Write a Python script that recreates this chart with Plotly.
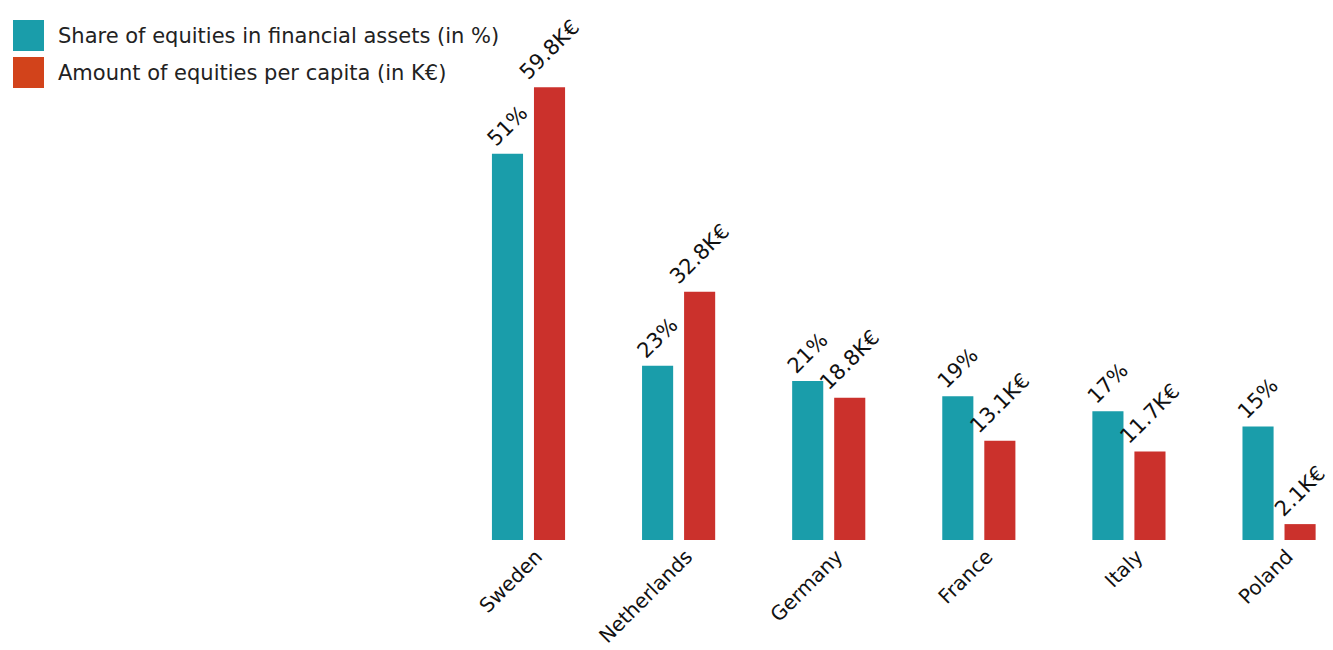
import plotly.graph_objects as go

# Data
countries = ["Sweden", "Netherlands", "Germany", "France", "Italy", "Poland"]
share_pct = [51, 23, 21, 19, 17, 15]
amount_keur = [59.8, 32.8, 18.8, 13.1, 11.7, 2.1]
series_names = [
    "Share of equities in financial assets (in %)",
    "Amount of equities per capita (in K€)",
]

# Styling
TEAL = "#1A9DAA"
RED = "#CB312C"
LEGEND_RED = "#D2431B"
FONT = "DejaVu Sans"
TEXT_COLOR = "#111111"
LABEL_SIZE = 21
TICK_SIZE = 20

W, H = 1333, 650
M_L, M_R, M_T, M_B = 440, 0, 10, 110
PLOT_W = W - M_L - M_R
PLOT_H = H - M_T - M_B


def px_x(px):
    return (px - M_L) / PLOT_W


def px_y(py):
    return (H - M_B - py) / PLOT_H


fig = go.Figure()
fig.add_trace(go.Bar(
    x=countries, y=share_pct, name=series_names[0],
    marker=dict(color=TEAL, line=dict(width=0)),
    text=[f"{v}%" for v in share_pct],
    textposition="outside", textangle=-45,
    textfont=dict(family=FONT, size=LABEL_SIZE, color=TEXT_COLOR),
    cliponaxis=False, constraintext="none", showlegend=False,
))
fig.add_trace(go.Bar(
    x=countries, y=amount_keur, name=series_names[1],
    marker=dict(color=RED, line=dict(width=0)),
    text=[f"{v}K€" for v in amount_keur],
    textposition="outside", textangle=-45,
    textfont=dict(family=FONT, size=LABEL_SIZE, color=TEXT_COLOR),
    cliponaxis=False, constraintext="none", showlegend=False,
))

# Legend drawn as large swatches with labels
shapes, annotations = [], []
for i, (name, col) in enumerate(zip(series_names, [TEAL, LEGEND_RED])):
    top = 20 + i * 37
    shapes.append(dict(
        type="rect", xref="paper", yref="paper",
        x0=px_x(13), x1=px_x(44), y0=px_y(top + 31), y1=px_y(top),
        fillcolor=col, line=dict(width=0), layer="above",
    ))
    annotations.append(dict(
        xref="paper", yref="paper", x=px_x(56), y=px_y(top + 16),
        xanchor="left", yanchor="middle", text=name, showarrow=False,
        font=dict(family=FONT, size=21, color="#222222"),
    ))

fig.update_layout(
    width=W, height=H,
    margin=dict(l=M_L, r=M_R, t=M_T, b=M_B),
    paper_bgcolor="white", plot_bgcolor="white",
    barmode="group", bargap=0.44, bargroupgap=0.26,
    shapes=shapes, annotations=annotations,
    font=dict(family=FONT, color=TEXT_COLOR),
    xaxis=dict(
        type="category", range=[-0.5896, 5.3594], automargin=False,
        tickangle=-45, tickfont=dict(family=FONT, size=TICK_SIZE, color=TEXT_COLOR),
        ticklabelshift=8,
        showgrid=False, showline=False, zeroline=False, ticks="",
    ),
    yaxis=dict(
        range=[0, 70], visible=False, showgrid=False, zeroline=False,
        automargin=False,
    ),
)

fig.write_html("out.html")
